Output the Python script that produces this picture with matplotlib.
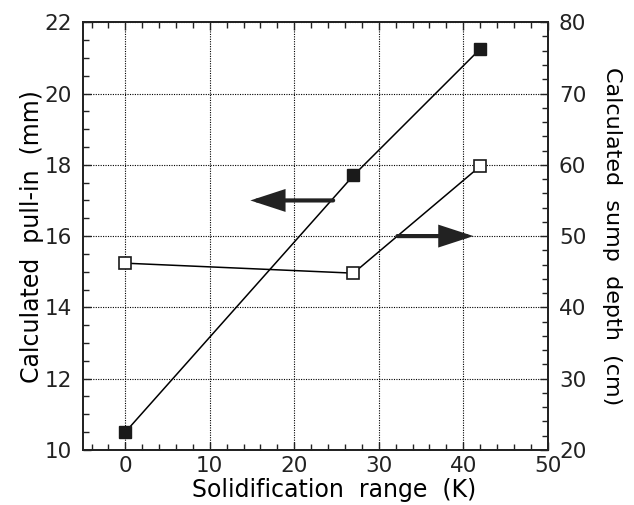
import matplotlib
matplotlib.use("Agg")
import matplotlib.pyplot as plt
from matplotlib.ticker import MultipleLocator

plt.rcParams['font.family'] = 'DejaVu Sans'

# solidification range (K)
solid_range = [0, 27, 42]
# calculated pull-in (mm), left axis
pull_in = [10.5, 17.7, 21.25]
# calculated sump depth (cm), right axis
sump_depth = [46.2, 44.8, 59.8]

ink = '#222222'
arrow_style = '-|>,head_length=1.9,head_width=0.62'


def main():
    fig = plt.figure(figsize=(6.34, 5.05), dpi=100)
    ax = fig.add_axes([0.131, 0.109, 0.733, 0.847])

    ax.plot(solid_range, pull_in, color='black', lw=1.1,
            marker='s', ms=9, mfc='#1a1a1a', mec='#1a1a1a', zorder=3)

    ax.set_xlim(-5, 50)
    ax.set_ylim(10, 22)
    ax.xaxis.set_major_locator(MultipleLocator(10))
    ax.xaxis.set_minor_locator(MultipleLocator(2))
    ax.yaxis.set_major_locator(MultipleLocator(2))
    ax.yaxis.set_minor_locator(MultipleLocator(0.5))
    ax.tick_params(which='both', direction='in', top=True, right=False,
                   width=1, labelsize=15.5, colors=ink)
    ax.tick_params(which='major', length=6)
    ax.tick_params(which='minor', length=4)
    ax.tick_params(axis='y', pad=8)
    ax.tick_params(axis='x', pad=4)
    ax.grid(True, which='major', color='black', linestyle=(0, (1, 1.2)), lw=0.8)

    ax.set_xlabel("Solidification  range  (K)", fontsize=17)
    ax.xaxis.set_label_coords(0.54, -0.065)
    ax.set_ylabel("Calculated  pull-in  (mm)", fontsize=17, labelpad=0)

    ax2 = ax.twinx()
    ax2.plot(solid_range, sump_depth, color='black', lw=1.1,
             marker='s', ms=9, mfc='white', mec='#1a1a1a', mew=1.2, zorder=3)
    ax2.set_ylim(20, 80)
    ax2.yaxis.set_major_locator(MultipleLocator(10))
    ax2.yaxis.set_minor_locator(MultipleLocator(2))
    ax2.tick_params(which='both', direction='in', labelsize=15.5, width=1,
                    colors=ink, pad=8)
    ax2.tick_params(which='major', length=6)
    ax2.tick_params(which='minor', length=4)
    ax2.set_ylabel("Calculated  sump  depth  (cm)", fontsize=16,
                   rotation=270, labelpad=26)

    for a in (ax, ax2):
        for s in a.spines.values():
            s.set_linewidth(1.3)
            s.set_color(ink)

    # arrows pointing to the axis each curve belongs to
    ax.annotate('', xy=(14.8, 17.0), xytext=(24.6, 17.0),
                arrowprops=dict(arrowstyle=arrow_style, lw=3, color=ink,
                                shrinkA=0, shrinkB=0, joinstyle='miter'),
                zorder=4)
    ax2.annotate('', xy=(41.2, 50), xytext=(32.2, 50),
                 arrowprops=dict(arrowstyle=arrow_style, lw=3, color=ink,
                                 shrinkA=0, shrinkB=0, joinstyle='miter'),
                 zorder=4)

    plt.savefig("out.png", dpi=100)


if __name__ == "__main__":
    main()
